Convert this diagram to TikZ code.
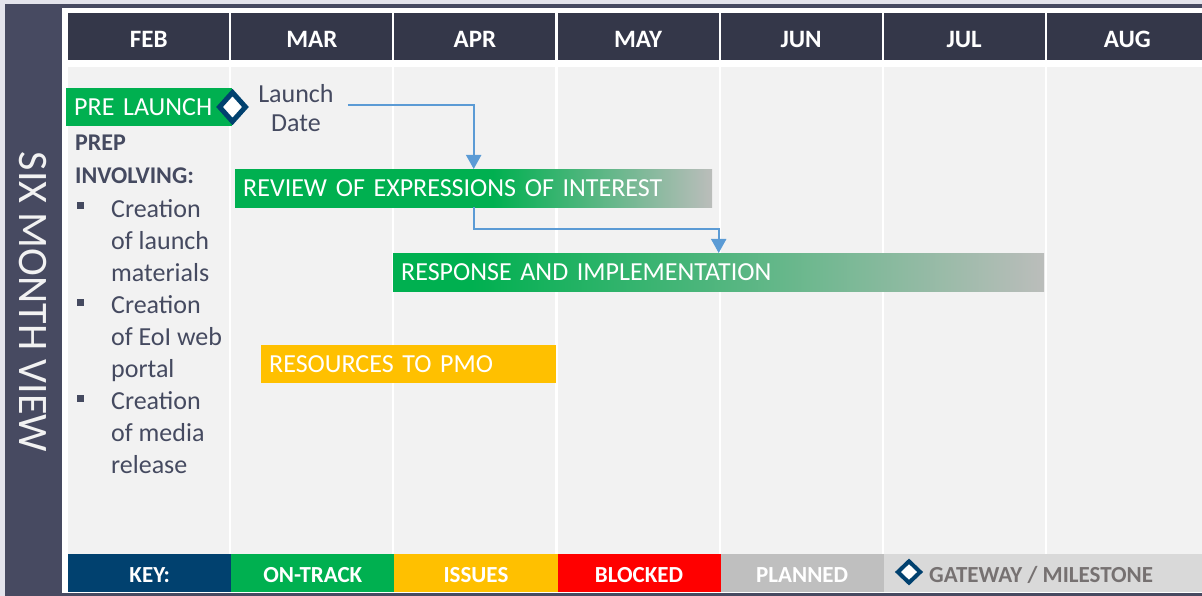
\documentclass[tikz,border=0pt]{standalone}
\usepackage{fontspec}
\setmainfont{Carlito}
\usetikzlibrary{positioning, arrows.meta, shapes.geometric, calc}

\definecolor{pagebg}{HTML}{E4E4EC}
\definecolor{framebar}{HTML}{474A61}
\definecolor{headbg}{HTML}{343749}
\definecolor{cellbg}{HTML}{F2F2F2}
\definecolor{ontrack}{HTML}{00B050}
\definecolor{issues}{HTML}{FFC000}
\definecolor{blocked}{HTML}{FF0000}
\definecolor{planned}{HTML}{BFBFBF}
\definecolor{fadegray}{HTML}{BBBDBB}
\definecolor{gatebg}{HTML}{D9D9D9}
\definecolor{gatetext}{HTML}{767171}
\definecolor{keyblue}{HTML}{01416F}
\definecolor{inkgray}{HTML}{454A60}
\definecolor{linkblue}{HTML}{5B9BD5}

% green bars that fade out towards their end
\pgfdeclarehorizontalshading{reviewfade}{100bp}{color(0bp)=(ontrack); color(52bp)=(ontrack); color(75bp)=(fadegray); color(100bp)=(fadegray)}
\pgfdeclarehorizontalshading{responsefade}{100bp}{color(0bp)=(ontrack); color(31bp)=(ontrack); color(75bp)=(fadegray); color(100bp)=(fadegray)}

\begin{document}
\begin{tikzpicture}[
    x=1pt, y=-1pt,
    month/.style={anchor=north west, fill=headbg, text=white, font=\fontsize{25}{29}\selectfont\bfseries, minimum width=161pt, minimum height=47pt, inner sep=0pt, text height=23pt, text depth=2pt},
    cell/.style={anchor=north west, fill=cellbg, minimum width=161pt, minimum height=487pt, inner sep=0pt},
    keycell/.style={anchor=north west, text=white, font=\fontsize{23}{27}\selectfont\bfseries, minimum width=163.1pt, minimum height=38pt, inner sep=0pt, text height=20pt, text depth=2pt},
    bar/.style={anchor=north west, text=white, font=\fontsize{26}{30}\selectfont, align=left, minimum height=38pt, inner xsep=8pt, inner ysep=0pt, text height=18.5pt, text depth=2.3pt},
    milestone/.style={diamond, draw=keyblue, fill=white, line width=5pt, inner sep=0pt, minimum width=28pt, minimum height=31pt},
    note/.style={text=inkgray, font=\fontsize{26}{32}\selectfont, inner sep=0pt},
    bullet/.style={rectangle, fill=inkgray, minimum size=7pt, inner sep=0pt},
    link/.style={-{Triangle[width=15pt, length=14pt]}, linkblue, line width=2pt}
]

\clip (0,0) rectangle (1202,596);

% Frame
\fill[pagebg] (0,0) rectangle (1202,596);
\fill[framebar] (5,4) rectangle (1202,596);
\fill[white] (62,8) rectangle (1202,593);
\node[rotate=-90, text=cellbg, font=\fontsize{42}{46}\selectfont, inner sep=0pt] (title) at (33,302) {SIX MONTH VIEW};

% Months
\node[month] (feb) at (68,13) {FEB};
\node[month] (mar) at (231.1,13) {MAR};
\node[month] (apr) at (394.2,13) {APR};
\node[month] (may) at (557.3,13) {MAY};
\node[month] (jun) at (720.4,13) {JUN};
\node[month] (jul) at (883.5,13) {JUL};
\node[month] (aug) at (1046.6,13) {AUG};

% Columns
\node[cell] (febcol) at (68,67) {};
\node[cell] (marcol) at (231.1,67) {};
\node[cell] (aprcol) at (394.2,67) {};
\node[cell] (maycol) at (557.3,67) {};
\node[cell] (juncol) at (720.4,67) {};
\node[cell] (julcol) at (883.5,67) {};
\node[cell] (augcol) at (1046.6,67) {};

% Pre launch notes
\node[note, font=\fontsize{24}{32.5}\selectfont\bfseries, align=left, anchor=north west] (prep) at (75,135) {PREP\\INVOLVING:};
\node[bullet] (bullet1) at (80,206) {};
\node[bullet] (bullet2) at (80,302) {};
\node[bullet] (bullet3) at (80,398) {};
\node[note, align=left, anchor=north west] (item1) at (111,199) {Creation\\of launch\\materials};
\node[note, align=left, anchor=north west] (item2) at (111,295) {Creation\\of EoI web\\portal};
\node[note, align=left, anchor=north west] (item3) at (111,391) {Creation\\of media\\release};

% Activities
\node[bar, fill=ontrack, text width=150pt] (prelaunch) at (66,88) {PRE LAUNCH};
\node[milestone] (launchgate) at (232.5,107) {};
\node[note, font=\fontsize{26}{29}\selectfont, align=center, anchor=north] (launch) at (296,84) {Launch\\Date};
\node[bar, shade, shading=reviewfade, text width=461pt] (review) at (235,169) {REVIEW OF EXPRESSIONS OF INTEREST};
\node[bar, shade, shading=responsefade, text width=635pt] (response) at (393,253) {RESPONSE AND IMPLEMENTATION};
\node[bar, fill=issues, text width=279pt] (resources) at (261,345) {RESOURCES TO PMO};

% Dependencies
\draw[link] ([xshift=14pt, yshift=3pt]launch.east) -| (review.north);
\draw[link] (review.south) -- ++(0,22) -| (response.north);

% Key
\node[keycell, fill=keyblue] (keylabel) at (68,554) {KEY:};
\node[keycell, fill=ontrack] (keyontrack) at (231.1,554) {ON-TRACK};
\node[keycell, fill=issues] (keyissues) at (394.2,554) {ISSUES};
\node[keycell, fill=blocked] (keyblocked) at (557.3,554) {BLOCKED};
\node[keycell, fill=planned] (keyplanned) at (720.4,554) {PLANNED};
\node[keycell, fill=gatebg, minimum width=320pt] (keygate) at (883.5,554) {};
\node[milestone, line width=4pt, minimum width=24pt, minimum height=23pt] (gatemark) at (909,572) {};
\node[anchor=base west, text=gatetext, font=\fontsize{23}{27}\selectfont\bfseries, inner sep=0pt] (gatelabel) at (929,582) {GATEWAY / MILESTONE};

\end{tikzpicture}
\end{document}
